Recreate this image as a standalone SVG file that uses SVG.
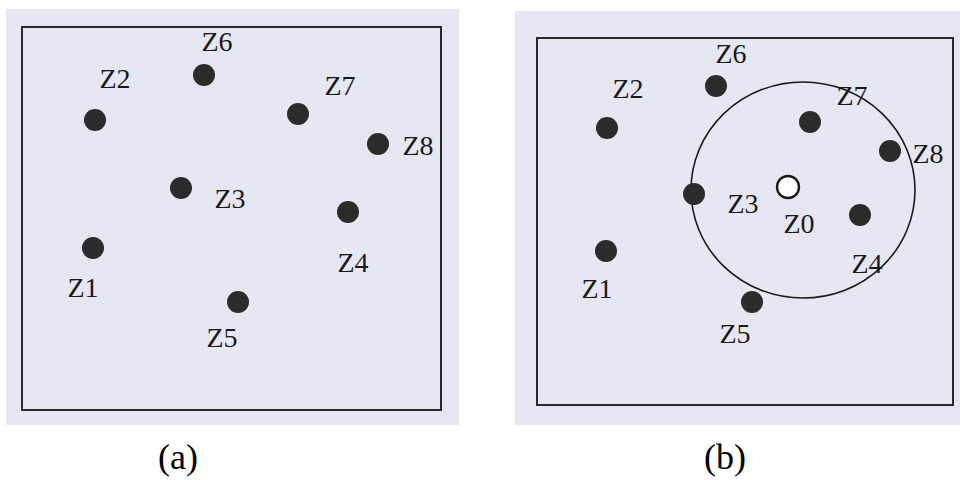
<svg xmlns="http://www.w3.org/2000/svg" width="960" height="480" viewBox="0 0 960 480">
<style>
.bg{fill:#e7e7f3}
.frame{fill:none;stroke:#2a2a2a;stroke-width:2}
.dot{fill:#2b2b2b}
.lbl{font-family:"Liberation Serif","Times New Roman",serif;font-size:28px;fill:#1a1a1a;text-anchor:middle}
.cap{font-family:"Liberation Serif","Times New Roman",serif;font-size:36px;fill:#000;text-anchor:middle}
</style>
<rect width="960" height="480" fill="#ffffff"/>
<!-- panel (a) -->
<g id="panel-a">
<rect class="bg" x="6" y="9" width="453" height="416"/>
<rect class="frame" x="22" y="27" width="419" height="383"/>
</g>
<g id="a-Z1"><circle class="dot" cx="93" cy="248" r="11"/><text class="lbl" x="83" y="297">Z1</text></g>
<g id="a-Z2"><circle class="dot" cx="95" cy="120" r="11"/><text class="lbl" x="115" y="88">Z2</text></g>
<g id="a-Z3"><circle class="dot" cx="181" cy="188" r="11"/><text class="lbl" x="230" y="208">Z3</text></g>
<g id="a-Z4"><circle class="dot" cx="348" cy="212" r="11"/><text class="lbl" x="353" y="272">Z4</text></g>
<g id="a-Z5"><circle class="dot" cx="238" cy="302" r="11"/><text class="lbl" x="222" y="347">Z5</text></g>
<g id="a-Z6"><circle class="dot" cx="204" cy="75" r="11"/><text class="lbl" x="217" y="51">Z6</text></g>
<g id="a-Z7"><circle class="dot" cx="298" cy="114" r="11"/><text class="lbl" x="340" y="95">Z7</text></g>
<g id="a-Z8"><circle class="dot" cx="378" cy="144" r="11"/><text class="lbl" x="418" y="155">Z8</text></g>
<text class="cap" x="178" y="469">(a)</text>
<!-- panel (b) -->
<g id="panel-b">
<rect class="bg" x="515" y="11" width="445" height="414"/>
<rect class="frame" x="537" y="38" width="416" height="367"/>
</g>
<g id="connectors">
<ellipse cx="803" cy="190" rx="112" ry="108" fill="none" stroke="#1a1a1a" stroke-width="1.6"/>
</g>
<g id="b-Z0"><circle cx="788" cy="187" r="11" fill="#ffffff" stroke="#1a1a1a" stroke-width="2.4"/><text class="lbl" x="799" y="233">Z0</text></g>
<g id="b-Z1"><circle class="dot" cx="606" cy="251" r="11"/><text class="lbl" x="597" y="298">Z1</text></g>
<g id="b-Z2"><circle class="dot" cx="607" cy="128" r="11"/><text class="lbl" x="628" y="98">Z2</text></g>
<g id="b-Z3"><circle class="dot" cx="694" cy="194" r="11"/><text class="lbl" x="743" y="213">Z3</text></g>
<g id="b-Z4"><circle class="dot" cx="860" cy="215" r="11"/><text class="lbl" x="867" y="273">Z4</text></g>
<g id="b-Z5"><circle class="dot" cx="752" cy="302" r="11"/><text class="lbl" x="735" y="343">Z5</text></g>
<g id="b-Z6"><circle class="dot" cx="716" cy="86" r="11"/><text class="lbl" x="731" y="63">Z6</text></g>
<g id="b-Z7"><circle class="dot" cx="810" cy="122" r="11"/><text class="lbl" x="852" y="105">Z7</text></g>
<g id="b-Z8"><circle class="dot" cx="890" cy="151" r="11"/><text class="lbl" x="928" y="163">Z8</text></g>
<text class="cap" x="725" y="469">(b)</text>
</svg>
